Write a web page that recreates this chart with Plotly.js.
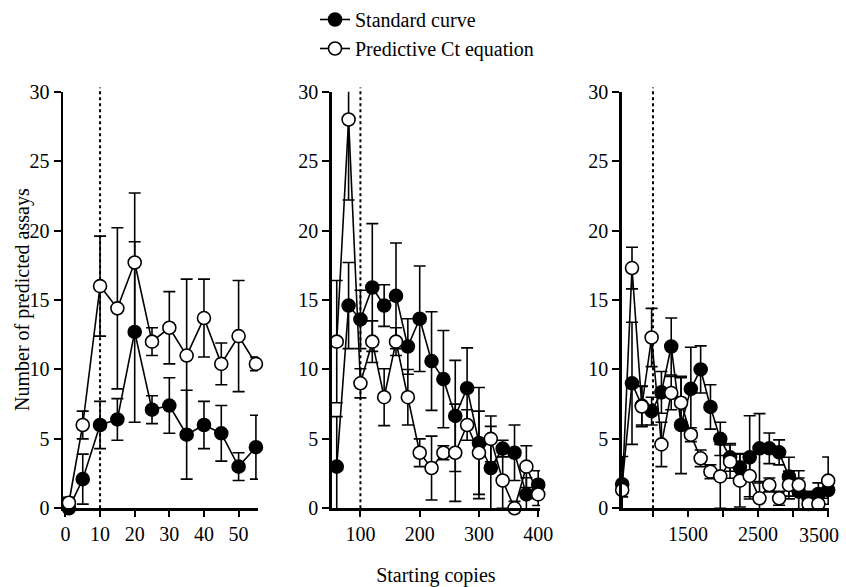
<!DOCTYPE html>
<html>
<head>
<meta charset="utf-8">
<script src="https://cdn.plot.ly/plotly-3.0.1.min.js"></script>
<style>html,body{margin:0;padding:0;background:#fff;}#chart{width:846px;height:587px;}</style>
</head>
<body>
<div id="chart"></div>
<script>
// ---- data ----
const seriesNames = ["Standard curve", "Predictive Ct equation"];

const p1x = [1, 5, 10, 15, 20, 25, 30, 35, 40, 45, 50, 55];
const p1Std = [0, 2.1, 6.0, 6.4, 12.7, 7.1, 7.4, 5.3, 6.0, 5.4, 3.0, 4.4];
const p1StdErr = [0, 1.8, 1.7, 1.5, 6.5, 1.0, 2.0, 3.2, 1.7, 2.0, 1.0, 2.3];
const p1Pred = [0.4, 6.0, 16.0, 14.4, 17.7, 12.0, 13.0, 11.0, 13.7, 10.4, 12.4, 10.4];
const p1PredErr = [0.4, 1.0, 3.6, 5.8, 5.0, 1.0, 2.6, 5.5, 2.8, 1.5, 4.0, 0.5];

const p2x = [60, 80, 100, 120, 140, 160, 180, 200, 220, 240, 260, 280, 300, 320, 340, 360, 380, 400];
const p2Std = [3.0, 14.6, 13.6, 15.9, 14.6, 15.3, 11.65, 13.65, 10.6, 9.3, 6.65, 8.65, 4.7, 2.9, 4.3, 4.0, 1.0, 1.7];
const p2StdErr = [3.6, 3.1, 2.1, 4.6, 1.5, 3.8, 2.0, 3.8, 3.55, 3.5, 4.0, 2.9, 4.0, 3.0, 0.6, 2.0, 1.2, 1.0];
const p2Pred = [12.0, 28.0, 9.0, 12.0, 8.0, 12.0, 8.0, 4.0, 2.9, 4.0, 4.0, 6.0, 4.0, 5.0, 2.0, 0.0, 3.0, 1.0];
const p2PredErr = [4.4, 5.8, 1.05, 1.5, 2.05, 1.0, 2.0, 1.0, 2.3, 0.5, 3.5, 1.1, 3.0, 1.65, 2.0, 0.5, 1.5, 0.8];

const p3x = [560, 700, 840, 980, 1120, 1260, 1400, 1540, 1680, 1820, 1960, 2100, 2240, 2380, 2520, 2660, 2800, 2940, 3080, 3220, 3360, 3500];
const p3Std = [1.73, 9.0, 7.4, 7.0, 8.35, 11.65, 6.0, 8.6, 10.0, 7.3, 5.0, 3.67, 2.95, 3.67, 4.32, 4.32, 4.03, 2.28, 1.2, 0.72, 1.03, 1.32];
const p3StdErr = [2.0, 4.4, 1.4, 1.0, 1.5, 2.05, 3.5, 3.0, 1.7, 1.6, 1.2, 1.0, 1.0, 3.0, 2.5, 1.1, 0.9, 1.4, 1.5, 0.5, 0.8, 0.6];
const p3Pred = [1.32, 17.3, 7.33, 12.3, 4.6, 8.3, 7.6, 5.3, 3.6, 2.64, 2.3, 3.36, 1.99, 2.33, 0.72, 1.68, 0.72, 1.68, 1.68, 0.31, 0.31, 1.99];
const p3PredErr = [0.5, 1.5, 1.45, 2.1, 1.6, 1.2, 1.8, 0.5, 0.6, 0.5, 2.3, 1.2, 1.9, 1.5, 1.2, 0.5, 0.5, 1.0, 0.5, 0.3, 0.5, 1.7];

const cutoffs = [10, 100, 1000];

const yTicks = [0, 5, 10, 15, 20, 25, 30];
const x1Ticks = [0, 10, 20, 30, 40, 50];
const x2Ticks = [100, 200, 300, 400];
const x3Ticks = [1000, 1500, 2000, 2500, 3000, 3500];
const x3TickText = ["", "1500", "", "2500", "", "3500"];
const xTitle = "Starting copies";
const yTitle = "Number of predicted assays";

// ---- build ----
const FONT = "Liberation Serif, Times New Roman, serif";
function mk(x, y, err, filled, xa, ya, name, show) {
  return {
    type: "scatter", mode: "lines+markers", x: x, y: y, name: name,
    xaxis: xa, yaxis: ya, showlegend: show, cliponaxis: false,
    line: {color: "#000", width: 1.6},
    marker: {size: 13, symbol: "circle", color: filled ? "#000" : "#fff", line: {color: "#000", width: 1.6}},
    error_y: {type: "data", array: err, visible: true, color: "#000", thickness: 1.6, width: 6}
  };
}
const data = [
  mk(p1x, p1Std, p1StdErr, true, "x", "y", seriesNames[0], true),
  mk(p1x, p1Pred, p1PredErr, false, "x", "y", seriesNames[1], true),
  mk(p2x, p2Std, p2StdErr, true, "x2", "y2", seriesNames[0], false),
  mk(p2x, p2Pred, p2PredErr, false, "x2", "y2", seriesNames[1], false),
  mk(p3x, p3Std, p3StdErr, true, "x3", "y3", seriesNames[0], false),
  mk(p3x, p3Pred, p3PredErr, false, "x3", "y3", seriesNames[1], false)
];

const yDom = [1 - 508.3 / 587, 1 - 91.7 / 587];
function xax(dom, range, tv, tt, anchor) {
  const a = {domain: dom, range: range, anchor: anchor, showline: true, linecolor: "#000", linewidth: 2.5,
    ticks: "outside", ticklen: 6, tickwidth: 2, tickcolor: "#000", showgrid: false, zeroline: false,
    tickmode: "array", tickvals: tv,
    tickfont: {family: FONT, size: 20, color: "#000"}};
  if (tt) a.ticktext = tt;
  return a;
}
function yax(anchor) {
  return {domain: yDom, range: [0, 30], anchor: anchor, showline: true, linecolor: "#000", linewidth: 2.5,
    ticks: "outside", ticklen: 7, tickwidth: 2, tickcolor: "#000", showgrid: false, zeroline: false,
    tickmode: "array", tickvals: yTicks, tickfont: {family: FONT, size: 20, color: "#000"}};
}
// last tick label of panel 3 sits inward of its tick (as in the reference), drawn as an annotation
const lastIdx = x3Ticks.length - 1;
const x3Shown = x3TickText.map((t, i) => i === lastIdx ? "" : t);

const layout = {
  width: 846, height: 587, margin: {l: 0, r: 0, t: 0, b: 0},
  paper_bgcolor: "#fff", plot_bgcolor: "#fff",
  font: {family: FONT, size: 20, color: "#000"},
  showlegend: true,
  legend: {x: 315 / 846, y: 1, xanchor: "left", yanchor: "top", bgcolor: "rgba(0,0,0,0)",
    font: {family: FONT, size: 20, color: "#000"}, tracegroupgap: 0},
  xaxis: xax([63 / 846, 258 / 846], [-0.7, 55.6], x1Ticks, null, "y"),
  xaxis2: Object.assign(xax([331.7 / 846, 540 / 846], [51.5, 403], x2Ticks, null, "y2"),
    {title: {text: xTitle, standoff: 24, font: {family: FONT, size: 20, color: "#000"}}}),
  xaxis3: xax([621.7 / 846, 829 / 846], [553, 3512], x3Ticks, x3Shown, "y3"),
  yaxis: yax("x"),
  yaxis2: yax("x2"),
  yaxis3: yax("x3"),
  annotations: [
    {text: yTitle, xref: "paper", yref: "paper", x: 22 / 846, y: (yDom[0] + yDom[1]) / 2,
     xanchor: "center", yanchor: "middle", textangle: -90, showarrow: false,
     font: {family: FONT, size: 20, color: "#000"}},
    {text: x3TickText[lastIdx], xref: "x3", yref: "y3 domain", x: x3Ticks[lastIdx], y: 0,
     xanchor: "center", yanchor: "top", xshift: -9, yshift: -14, showarrow: false,
     font: {family: FONT, size: 20, color: "#000"}}
  ],
  shapes: cutoffs.map((c, i) => ({
    type: "line", xref: i === 0 ? "x" : "x" + (i + 1), yref: (i === 0 ? "y" : "y" + (i + 1)) + " domain",
    x0: c, x1: c, y0: 0, y1: 1.01, line: {color: "#000", width: 2, dash: "dot"}, layer: "below"
  }))
};
Plotly.newPlot("chart", data, layout, {staticPlot: true});
</script>
</body>
</html>
